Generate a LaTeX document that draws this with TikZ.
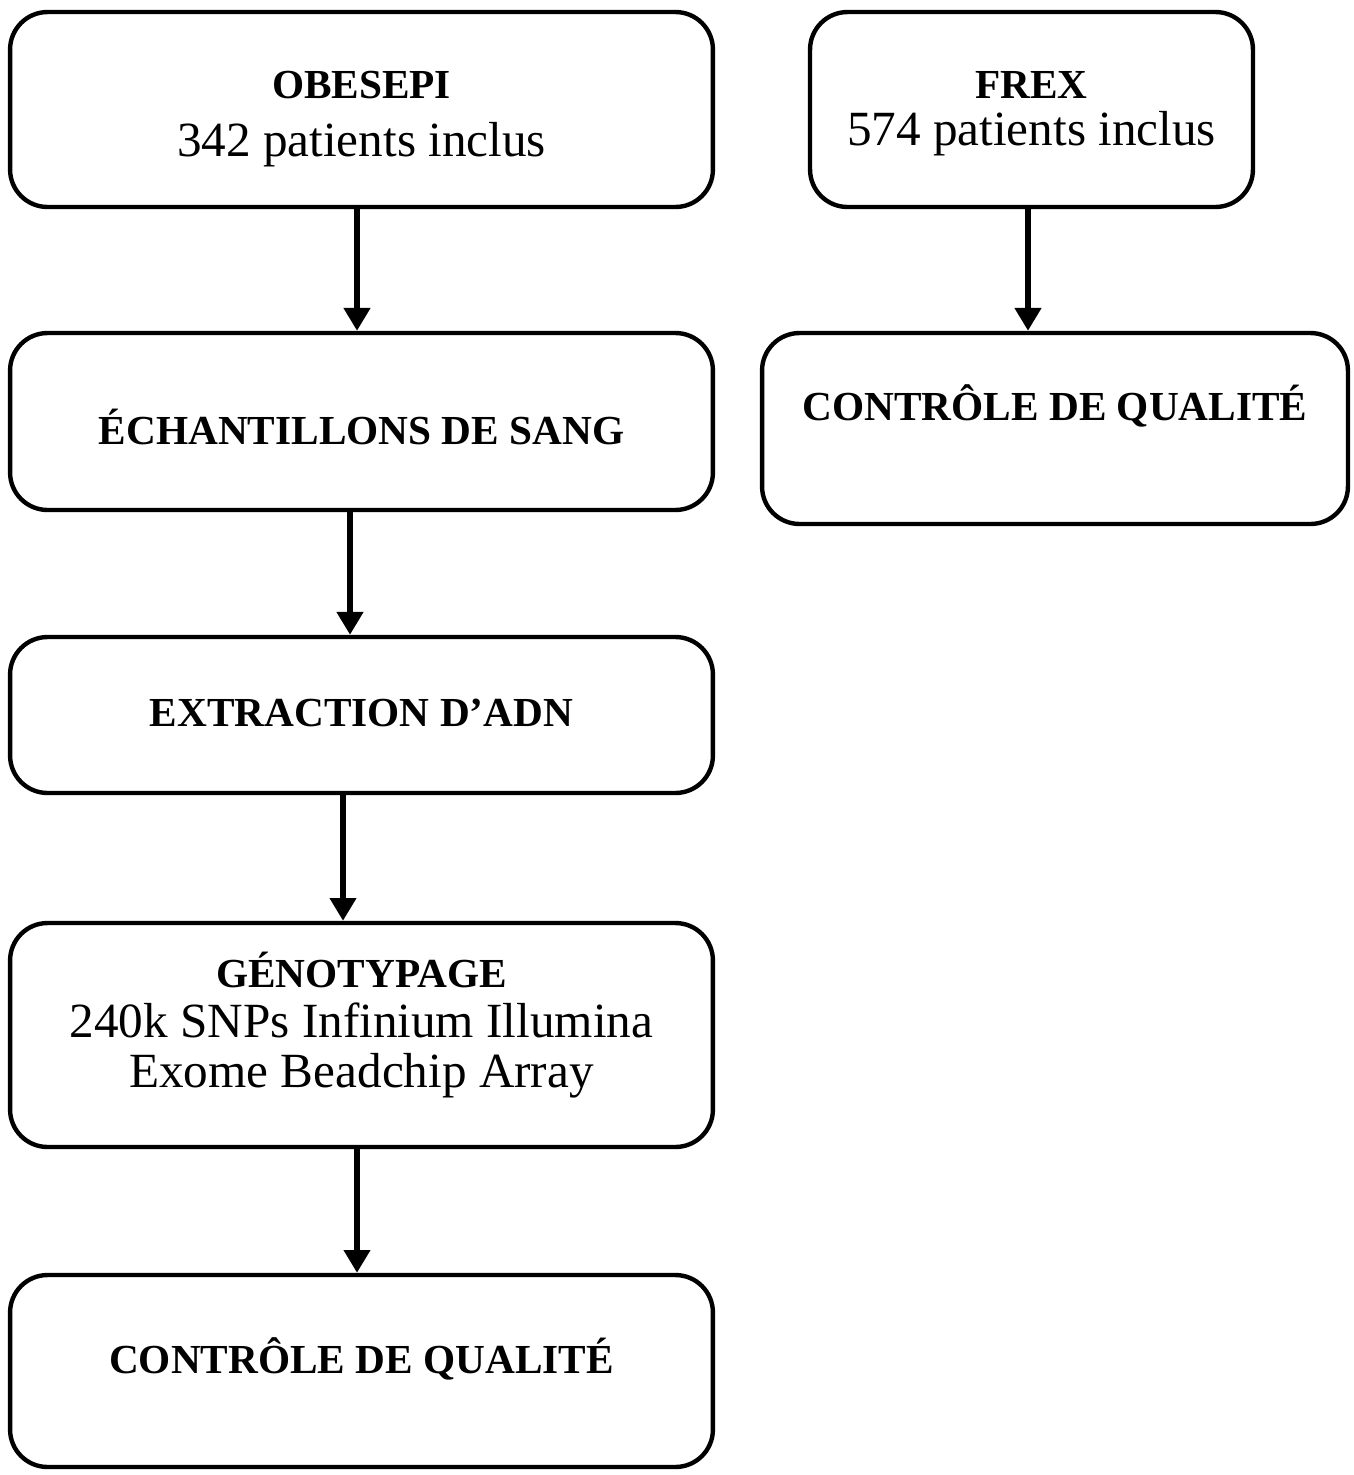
\documentclass[tikz,border=0pt]{standalone}
\usepackage{fontspec}
\setmainfont{Liberation Serif}
\usepackage{tikz}
\usetikzlibrary{arrows.meta,positioning,calc}

\newcommand{\ttl}[1]{{\fontsize{23.5}{28}\selectfont\bfseries #1}}

\begin{document}
\begin{tikzpicture}[
    x=0.02cm, y=-0.02cm,
    font=\fontsize{28}{33.5}\selectfont,
    >={Triangle[width=14.5pt,length=13pt]},
    % --- node styles ---
    block/.style = {rectangle, draw=black, line width=2.5pt,
                    rounded corners=0.75cm, align=center,
                    minimum width=14.06cm, inner sep=0pt},
    arrow/.style  = {->, line width=3.4pt},
]
\useasboundingbox (0,0) rectangle (1354,1475);

%============ LEFT COLUMN ============
\node (obesepi) [block, minimum height=3.9cm, text height=53.9pt, text depth=0pt]
  at (361.5,109.5) {\ttl{OBESEPI}\\342 patients inclus};

\node (sang) [block, minimum height=3.54cm, text height=26.6pt, text depth=0pt]
  at (361.5,421.5) {\ttl{ÉCHANTILLONS DE SANG}};

\node (adn) [block, minimum height=3.12cm, text height=13.6pt, text depth=0pt]
  at (361.5,715) {\ttl{EXTRACTION D’ADN}};

\node (geno) [block, minimum height=4.48cm, text height=60.1pt, text depth=0pt]
  at (361.5,1035)
  {\ttl{GÉNOTYPAGE}\\[-4.9pt]240k SNPs Infinium Illumina\\[-4.9pt]Exome Beadchip Array};

\node (cq) [block, minimum height=3.84cm, text height=2.3pt, text depth=0pt]
  at (361.5,1371) {\ttl{CONTRÔLE DE QUALITÉ}};

%============ RIGHT COLUMN ============
\node (frex) [block, minimum width=8.86cm, minimum height=3.9cm, text height=41.4pt, text depth=0pt]
  at (1031.5,109.5) {\ttl{FREX}\\[-6.3pt]574 patients inclus};

\node (cqfrex) [block, minimum width=11.72cm, minimum height=3.82cm, text height=0pt, text depth=9.6pt]
  at (1055,428.5) {\ttl{CONTRÔLE DE QUALITÉ}};

%============ ARROWS ============
\draw[arrow] ([xshift=-0.09cm]obesepi.south) -- ([xshift=-0.09cm]sang.north);
\draw[arrow] ([xshift=-0.23cm]sang.south) -- ([xshift=-0.23cm]adn.north);
\draw[arrow] ([xshift=-0.37cm]adn.south) -- ([xshift=-0.37cm]geno.north);
\draw[arrow] ([xshift=-0.09cm]geno.south) -- ([xshift=-0.09cm]cq.north);
\draw[arrow] ([xshift=-0.07cm]frex.south) -- ([xshift=-0.07cm]frex.south |- cqfrex.north);

\end{tikzpicture}
\end{document}
